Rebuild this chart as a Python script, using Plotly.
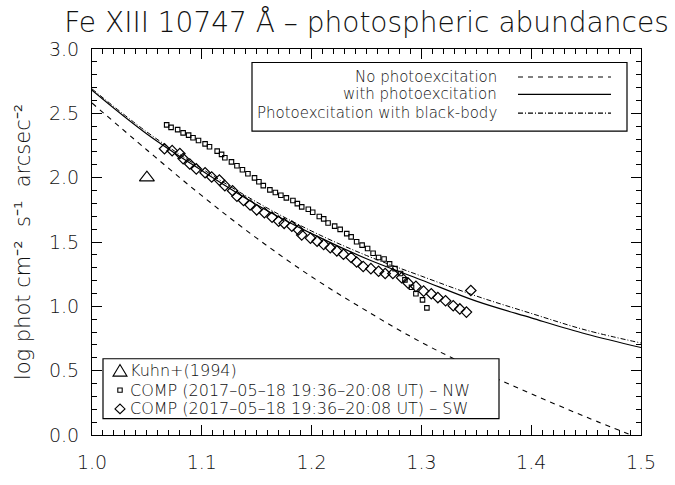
import plotly.graph_objects as go

# ---------------- data ----------------
model_x = [1.00, 1.05, 1.10, 1.15, 1.20, 1.25, 1.30, 1.35, 1.40, 1.45, 1.50]
no_photo = [2.58, 2.215, 1.86, 1.53, 1.23, 0.965, 0.72, 0.51, 0.32, 0.14, -0.03]
with_photo = [2.68, 2.34, 2.055, 1.79, 1.565, 1.37, 1.205, 1.04, 0.91, 0.785, 0.68]
blackbody = [2.69, 2.355, 2.07, 1.81, 1.585, 1.395, 1.235, 1.08, 0.945, 0.815, 0.715]

kuhn_x = [1.05]
kuhn_y = [2.00]

nw_x = [1.068, 1.072, 1.078, 1.083, 1.088, 1.092, 1.097, 1.103, 1.107, 1.114,
        1.118, 1.121, 1.127, 1.132, 1.137, 1.142, 1.148, 1.152, 1.156, 1.162,
        1.167, 1.172, 1.177, 1.183, 1.187, 1.191, 1.197, 1.201, 1.207, 1.211,
        1.215, 1.221, 1.226, 1.232, 1.236, 1.241, 1.246, 1.251, 1.256, 1.261,
        1.266, 1.271, 1.276, 1.281, 1.285, 1.291, 1.295, 1.301, 1.305]
nw_y = [2.410, 2.391, 2.373, 2.348, 2.331, 2.310, 2.289, 2.263, 2.240, 2.206,
        2.181, 2.155, 2.123, 2.093, 2.061, 2.031, 1.998, 1.968, 1.938, 1.905,
        1.885, 1.863, 1.843, 1.823, 1.798, 1.773, 1.755, 1.731, 1.698, 1.680,
        1.648, 1.623, 1.598, 1.565, 1.540, 1.502, 1.476, 1.449, 1.413, 1.380,
        1.368, 1.330, 1.293, 1.255, 1.206, 1.148, 1.098, 1.050, 0.988]

sw_x = [1.066, 1.073, 1.080, 1.083, 1.089, 1.095, 1.103, 1.109, 1.116, 1.121,
        1.128, 1.132, 1.138, 1.144, 1.150, 1.157, 1.164, 1.170, 1.175, 1.182,
        1.188, 1.191, 1.199, 1.205, 1.211, 1.217, 1.223, 1.229, 1.236, 1.241,
        1.247, 1.254, 1.261, 1.267, 1.274, 1.282, 1.288, 1.295, 1.302, 1.309,
        1.315, 1.322, 1.329, 1.335, 1.341, 1.345]
sw_y = [2.225, 2.210, 2.188, 2.148, 2.106, 2.068, 2.038, 2.005, 1.981, 1.938,
        1.898, 1.855, 1.823, 1.788, 1.750, 1.727, 1.693, 1.662, 1.645, 1.623,
        1.593, 1.555, 1.530, 1.506, 1.480, 1.455, 1.431, 1.405, 1.380, 1.345,
        1.310, 1.293, 1.273, 1.255, 1.255, 1.223, 1.180, 1.155, 1.118, 1.098,
        1.068, 1.043, 1.005, 0.980, 0.955, 1.123]

x_ticks = [1.0, 1.1, 1.2, 1.3, 1.4, 1.5]
y_ticks = [0.0, 0.5, 1.0, 1.5, 2.0, 2.5, 3.0]

title_text = "Fe XIII 10747 Å – photospheric abundances"
y_title = "log phot cm⁻²  s⁻¹  arcsec⁻²"
top_legend = ["No photoexcitation", "with photoexcitation", "Photoexcitation with black-body"]
bottom_legend = ["Kuhn+(1994)", "COMP (2017–05–18 19:36–20:08 UT) – NW",
                 "COMP (2017–05–18 19:36–20:08 UT) – SW"]

FONT = "DejaVu Sans ExtraLight, DejaVu Sans"
INK = "#111111"

# ---------------- figure ----------------
fig = go.Figure()
fig.add_trace(go.Scatter(x=model_x, y=no_photo, mode="lines", name=top_legend[0],
                         line=dict(color="black", width=1.1, dash="5px,5px", shape="spline"),
                         showlegend=False))
fig.add_trace(go.Scatter(x=model_x, y=with_photo, mode="lines", name=top_legend[1],
                         line=dict(color="black", width=1.2, shape="spline"),
                         showlegend=False))
fig.add_trace(go.Scatter(x=model_x, y=blackbody, mode="lines", name=top_legend[2],
                         line=dict(color="black", width=1.0, dash="5px,2px,1px,2px", shape="spline"),
                         showlegend=False))
fig.add_trace(go.Scatter(x=nw_x, y=nw_y, mode="markers", name=bottom_legend[1],
                         marker=dict(symbol="square-open", size=4.5, color="black",
                                     line=dict(width=1.1, color="black")),
                         showlegend=False))
fig.add_trace(go.Scatter(x=sw_x, y=sw_y, mode="markers", name=bottom_legend[2],
                         marker=dict(symbol="diamond-open", size=8, color="black",
                                     line=dict(width=1.2, color="black")),
                         showlegend=False))
fig.add_trace(go.Scatter(x=kuhn_x, y=kuhn_y, mode="markers", name=bottom_legend[0],
                         marker=dict(symbol="triangle-up-open", size=13, color="black",
                                     line=dict(width=1.1, color="black")),
                         showlegend=False))

# pixel -> paper helpers for legend boxes (plot area 92..641 x 49..449)
L, R, T, B = 92, 641, 49, 449
def px(x):
    return (x - L) / (R - L)
def py(y):
    return (B - y) / (B - T)

shapes = []
annotations = []

# ---- top legend (lines) ----
shapes.append(dict(type="rect", xref="paper", yref="paper",
                   x0=px(252), x1=px(627), y0=py(134), y1=py(63),
                   line=dict(color="black", width=1.2), fillcolor="white", layer="above"))
row_y = [78, 96, 115.5]
dashes = ["5px,5px", "solid", "5px,2px,1px,2px"]
for txt, yy, ds in zip(top_legend, row_y, dashes):
    annotations.append(dict(text=txt, xref="paper", yref="paper", x=px(498), y=py(yy),
                            xanchor="right", yanchor="middle", showarrow=False, borderpad=0,
                            font=dict(family=FONT, size=15, color=INK, weight=200)))
    shapes.append(dict(type="line", xref="paper", yref="paper", x0=px(518), x1=px(611),
                       y0=py(yy), y1=py(yy), line=dict(color="black", width=1.1, dash=ds),
                       layer="above"))

# ---- bottom legend (symbols) ----
shapes.append(dict(type="rect", xref="paper", yref="paper",
                   x0=px(103), x1=px(499), y0=py(432), y1=py(370),
                   line=dict(color="black", width=1.2), fillcolor="white", layer="above"))
brow = [382.5, 402.5, 422.0]
cx = 120
tri = f"M {px(cx-7)},{py(brow[0]+5.5)} L {px(cx+7)},{py(brow[0]+5.5)} L {px(cx)},{py(brow[0]-6.5)} Z"
shapes.append(dict(type="path", xref="paper", yref="paper", path=tri,
                   line=dict(color="black", width=1.1), layer="above"))
sq = (f"M {px(cx-2.2)},{py(brow[1]-2.2)} L {px(cx+2.2)},{py(brow[1]-2.2)} "
      f"L {px(cx+2.2)},{py(brow[1]+2.2)} L {px(cx-2.2)},{py(brow[1]+2.2)} Z")
shapes.append(dict(type="path", xref="paper", yref="paper", path=sq,
                   line=dict(color="black", width=1.1), layer="above"))
dm = (f"M {px(cx-5)},{py(brow[2])} L {px(cx)},{py(brow[2]-5)} "
      f"L {px(cx+5)},{py(brow[2])} L {px(cx)},{py(brow[2]+5)} Z")
shapes.append(dict(type="path", xref="paper", yref="paper", path=dm,
                   line=dict(color="black", width=1.1), layer="above"))
for txt, yy in zip(bottom_legend, brow):
    annotations.append(dict(text=txt, xref="paper", yref="paper", x=px(129), y=py(yy),
                            xanchor="left", yanchor="middle", showarrow=False, borderpad=0,
                            font=dict(family=FONT, size=16, color=INK, weight=200)))

axis_common = dict(showgrid=False, zeroline=False, showline=True, linecolor="black",
                   linewidth=1.2, mirror="allticks", ticks="inside", ticklen=10,
                   tickwidth=1, tickcolor="black", tickformat=".1f",
                   tickfont=dict(family=FONT, size=19, color=INK, weight=200))

fig.update_layout(
    width=675, height=485,
    margin=dict(l=L, r=675 - R, t=T, b=485 - B, pad=0),
    paper_bgcolor="white", plot_bgcolor="white",
    title=dict(text=title_text, x=0.5, xref="paper", xanchor="center",
               y=1 - 22 / 485, yref="container", yanchor="middle",
               font=dict(family=FONT, size=28, color=INK, weight=200)),
    xaxis=dict(range=[1.0, 1.5], tickvals=x_ticks,
               minor=dict(ticks="inside", ticklen=5, dtick=0.01, tick0=1.0,
                          tickcolor="black", tickwidth=1, showgrid=False),
               ticklabelstandoff=10, **axis_common),
    yaxis=dict(range=[0.0, 3.0], tickvals=y_ticks,
               minor=dict(ticks="inside", ticklen=5, dtick=0.1, tick0=0.0,
                          tickcolor="black", tickwidth=1, showgrid=False),
               ticklabelstandoff=8,
               title=dict(text=y_title, standoff=12,
                          font=dict(family=FONT, size=21, color=INK, weight=200)),
               **axis_common),
    shapes=shapes, annotations=annotations, showlegend=False,
)

fig.write_html("out.html")
